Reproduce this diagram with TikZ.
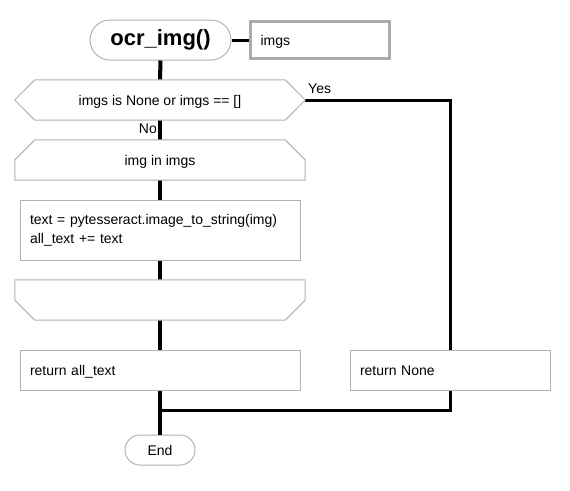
\documentclass[tikz,border=0pt]{standalone}
\usepackage{fontspec}
\setmainfont{Liberation Sans}
\begin{document}
\begin{tikzpicture}[x=1pt,y=-1pt,
  every node/.style={font=\fontsize{14}{19}\selectfont, inner sep=0pt},
  outl/.style={draw=black!30, line width=1pt},
  box/.style={outl, fill=white, rectangle},
  term/.style={outl, fill=white, rectangle},
  spine/.style={line width=4pt, black},
  conn/.style={line width=3pt, black},
  plain/.style={draw=none, rectangle},
  sl/.style={text height=10pt, text depth=0pt}
]
\useasboundingbox (0,0) rectangle (570,490);
% nodes
\node[term, rounded corners=20pt, minimum width=141pt, minimum height=40pt,
  font=\fontsize{22}{26}\selectfont\bfseries] (start) at (160.5,40) {ocr\_img()};
\node[rectangle, sl, draw=black!33, line width=3pt, fill=white, minimum width=139pt, minimum height=37pt,
  text width=119pt, align=left] (imgs) at (320,40) {imgs};
\node[plain, minimum width=290pt, minimum height=40pt] (dec) at (160,100) {};
\node[plain, minimum width=290pt, minimum height=40pt] (loopS) at (160,160) {};
\node[box, minimum width=280pt, minimum height=60pt, text width=260pt, align=left] (proc) at (160,230)
  {text = pytesseract.image\_to\_string(img)\\all\_text += text};
\node[plain, minimum width=290pt, minimum height=40pt] (loopE) at (160,300) {};
\node[box, sl, minimum width=280pt, minimum height=40pt, text width=260pt, align=left] (ret) at (160,370) {return all\_text};
\node[box, sl, minimum width=200pt, minimum height=40pt, text width=180pt, align=left] (retN) at (450,370) {return None};
\node[term, sl, rounded corners=15pt, minimum width=70pt, minimum height=30pt] (endn) at (160,450) {End};
\coordinate (mrg) at (160,410);
% connectors
\draw[conn] (start.east) -- (imgs.west);
\draw[spine] (start.south) -- (dec.north);
\draw[spine] (dec.south) -- (loopS.north);
\draw[spine] (loopS.south) -- (proc.north);
\draw[spine] (proc.south) -- (loopE.north);
\draw[spine] (loopE.south) -- (ret.north);
\draw[spine] (ret.south) -- (endn.north);
\draw[conn] (dec.east) -| (retN.north);
\draw[conn] (retN.south) |- (mrg);
% special outlines
\draw[outl, fill=white] (dec.west) -- ([xshift=20pt]dec.north west) -- ([xshift=-20pt]dec.north east)
  -- (dec.east) -- ([xshift=-20pt]dec.south east) -- ([xshift=20pt]dec.south west) -- cycle;
\node[sl] at (dec.center) {imgs is None or imgs == []};
\draw[outl, fill=white] (loopS.south west) -- ([yshift=-20pt]loopS.north west) -- ([xshift=20pt]loopS.north west)
  -- ([xshift=-20pt]loopS.north east) -- ([yshift=-20pt]loopS.north east) -- (loopS.south east) -- cycle;
\node[sl] at (loopS.center) {img in imgs};
\draw[outl, fill=white] (loopE.north west) -- (loopE.north east) -- ([yshift=20pt]loopE.south east)
  -- ([xshift=-20pt]loopE.south east) -- ([xshift=20pt]loopE.south west) -- ([yshift=20pt]loopE.south west) -- cycle;
% labels
\node[anchor=west] (yes) at (308,89) {Yes};
\node[anchor=east] (no) at (157,129) {No};
\end{tikzpicture}
\end{document}
